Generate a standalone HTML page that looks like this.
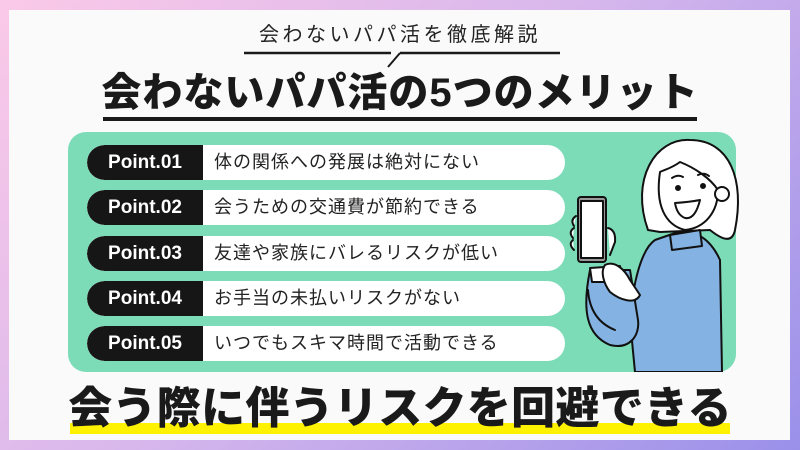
<!DOCTYPE html>
<html><head><meta charset="utf-8"><style>
*{margin:0;padding:0;box-sizing:border-box}
body{width:800px;height:450px;overflow:hidden;position:relative;background:linear-gradient(135deg,#fbc9e8 0%,#d9b8ec 45%,#9a90ea 100%);font-family:"Liberation Sans","Noto Sans CJK JP",sans-serif;color:#1a1a1a}
.panel{position:absolute;left:9px;top:10px;width:781px;height:430px;background:#fafafa}
.abs{position:absolute}
.sub{left:0;width:800px;top:21px;text-align:center;font-size:20px;letter-spacing:3.5px;line-height:28px;color:#222}
.title{left:0;width:800px;top:67px;text-align:center;font-size:40px;font-weight:900;letter-spacing:1px;line-height:52px;color:#1a1a1a}
.green{left:68px;top:132px;width:668px;height:240px;background:#7ddcb8;border-radius:18px}
.pill{position:absolute;left:87px;width:478px;height:35px;background:#fff;border-radius:18px;overflow:hidden}
.pill b{position:absolute;left:0;top:0;width:116px;height:35px;background:#161616;color:#fff;font-size:19px;line-height:35px;text-align:center;border-radius:18px 0 0 18px;font-weight:700}
.pill span{position:absolute;left:127px;top:0;line-height:35px;font-size:18px;letter-spacing:1px;color:#222}
.bottom{left:0;width:800px;top:381px;text-align:center;font-size:44px;font-weight:900;line-height:56px;letter-spacing:0.3px;color:#1a1a1a;z-index:2}
.yel{left:70px;top:423px;width:660px;height:11px;background:#fff200}
</style></head><body>
<div class="panel"></div>
<div class="abs sub">会わないパパ活を徹底解説</div>
<svg class="abs" style="left:0;top:0" width="800" height="130">
<path d="M244 53H391M400 53H560" stroke="#1a1a1a" stroke-width="2.5" fill="none"/>
<path d="M388 67L400 53" stroke="#1a1a1a" stroke-width="2"/>
<rect x="103" y="117" width="594" height="4" fill="#1a1a1a"/>
</svg>
<div class="abs title">会わないパパ活の5つのメリット</div>
<div class="abs green"></div>
<div class="pill" style="top:145px"><b>Point.01</b><span>体の関係への発展は絶対にない</span></div>
<div class="pill" style="top:190px"><b>Point.02</b><span>会うための交通費が節約できる</span></div>
<div class="pill" style="top:236px"><b>Point.03</b><span>友達や家族にバレるリスクが低い</span></div>
<div class="pill" style="top:281px"><b>Point.04</b><span>お手当の未払いリスクがない</span></div>
<div class="pill" style="top:326px"><b>Point.05</b><span>いつでもスキマ時間で活動できる</span></div>
<svg class="abs" style="left:560px;top:120px" width="240" height="252" viewBox="0 0 240 252">
<g stroke="#111" stroke-width="2" stroke-linejoin="round" stroke-linecap="round">
<path d="M88 110 C70 60 95 18 130 20 C170 20 185 60 175 110 C172 125 160 118 150 110 L100 112 Z" fill="#fff"/>
<path d="M95 120 C80 130 72 170 70 200 L75 252 L162 252 L160 140 C150 118 135 110 118 112 Z" fill="#84b3e3"/>
<path d="M110 115 L140 110 L142 126 L112 130 Z" fill="#84b3e3"/>
<path d="M100 52 C95 85 105 105 125 110 C145 108 158 92 158 70 C150 58 135 48 120 42 C112 48 104 50 100 52 Z" fill="#fff"/>
<circle cx="118" cy="68" r="2" fill="#111"/><circle cx="143" cy="66" r="2" fill="#111"/>
<path d="M112 58 Q118 54 123 57 M138 55 Q144 52 149 56" fill="none"/>
<path d="M115 83 Q130 82 140 80 Q135 100 125 98 Q117 95 115 83Z" fill="#fff"/>
<circle cx="162" cy="74" r="7" fill="#fff"/>
<path d="M30 150 C22 190 26 215 50 225 C70 230 80 215 78 200 L70 150 Z" fill="#84b3e3"/>
<path d="M30 148 L60 146 L62 162 L32 162 Z" fill="#fff"/>
<path d="M28 170 Q30 200 55 210" fill="none"/>
<rect x="18" y="77" width="28" height="65" rx="3" fill="#999"/>
<rect x="21" y="81" width="22" height="57" fill="#fff"/>
<path d="M16 96 Q10 100 14 106 M14 108 Q8 112 13 118 M13 120 Q8 124 14 130" fill="#fff"/>
<path d="M48 108 Q56 110 55 122 L50 135" fill="#fff"/>
<path d="M45 145 C55 140 65 150 70 160 L80 175 C75 185 60 180 50 172 C44 164 40 152 45 145Z" fill="#fff"/>
</g>
</svg>
<div class="abs yel"></div>
<div class="abs bottom">会う際に伴うリスクを回避できる</div>
</body></html>
